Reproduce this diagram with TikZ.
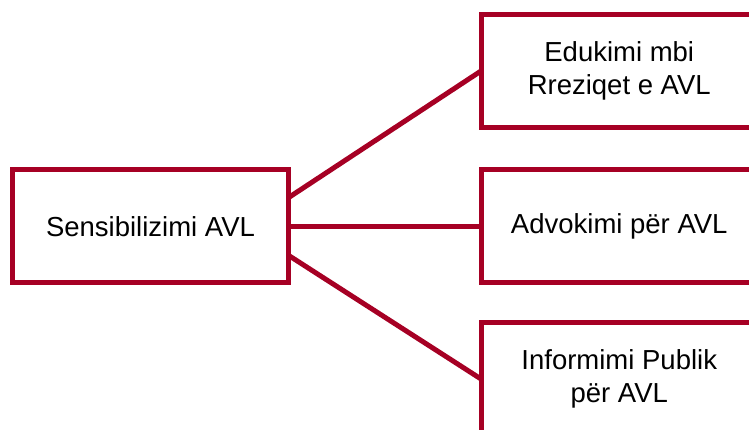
\documentclass[tikz,border=0pt]{standalone}
\usepackage{fontspec}
\setmainfont{Liberation Sans}
\definecolor{avlred}{RGB}{166,0,36}
\tikzset{
	box/.style={draw=avlred,line width=5pt,minimum width=276.5pt,minimum height=113pt,
		inner sep=0pt,outer sep=0pt,align=center,font=\fontsize{27.5}{33}\selectfont},
	link/.style={draw=avlred,line width=5pt}
}
\begin{document}
\begin{tikzpicture}[x=1pt,y=1pt]
		\useasboundingbox (0,0) rectangle (749,430);
		\node[box] (sens) at (150.5,203.5) {Sensibilizimi AVL};
		\node[box] (edu) at (619.25,359) {Edukimi mbi\\Rreziqet e AVL};
		\node[box] (adv) at (619.25,203.5) {Advokimi për AVL};
		\node[box] (inf) at (619.25,51) {Informimi Publik\\për AVL};
		\draw[link] ([yshift=29pt]sens.east) -- (edu.west);
		\draw[link] (sens.east) -- (adv.west);
		\draw[link] ([yshift=-29pt]sens.east) -- (inf.west);
		\end{tikzpicture}
\end{document}
